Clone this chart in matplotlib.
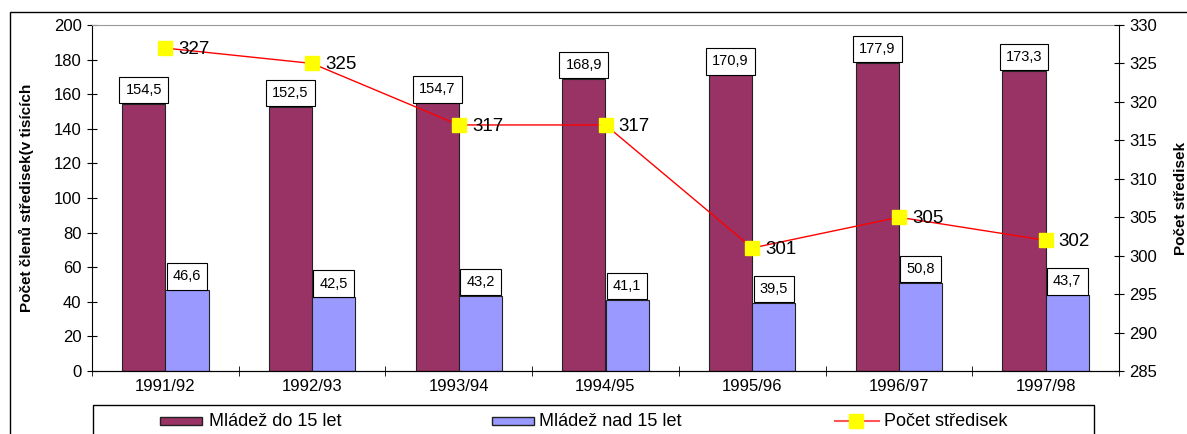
import matplotlib.pyplot as plt
import numpy as np
from matplotlib.patches import Rectangle
from matplotlib.lines import Line2D

plt.rcParams['font.family'] = ['Liberation Sans', 'DejaVu Sans']

# data
years = ['1991/92', '1992/93', '1993/94', '1994/95', '1995/96', '1996/97', '1997/98']
do15 = [154.5, 152.5, 154.7, 168.9, 170.9, 177.9, 173.3]
nad15 = [46.6, 42.5, 43.2, 41.1, 39.5, 50.8, 43.7]
strediska = [327, 325, 317, 317, 301, 305, 302]
legend_labels = ['Mládež do 15 let', 'Mládež nad 15 let', 'Počet středisek']

c_do = '#993366'
c_nad = '#9999FF'

W, H = 1187, 434
fig = plt.figure(figsize=(W / 100, H / 100), dpi=100)


def fx(px):
    return px / W


def fy(py):
    return 1 - py / H


# vnejsi ramecek (oriznuty vpravo a dole)
fig.patches.append(Rectangle((fx(10), -0.1), 1.2, fy(12) + 0.1, transform=fig.transFigure,
                             fill=False, edgecolor='black', linewidth=1))

ax = fig.add_axes([fx(92), fy(371), fx(1119 - 92), (371 - 25) / H])
x = np.arange(len(years))
bw = 0.295

b1 = ax.bar(x - bw / 2, do15, bw, color=c_do, edgecolor='#222222', linewidth=0.8)
b2 = ax.bar(x + bw / 2, nad15, bw, color=c_nad, edgecolor='#222222', linewidth=0.8)

for rect, v in zip(list(b1) + list(b2), do15 + nad15):
    ax.annotate(('%.1f' % v).replace('.', ','),
                (rect.get_x() + rect.get_width() / 2, rect.get_height()),
                xytext=(0, 5), textcoords='offset points', ha='center', va='bottom',
                fontsize=10.5,
                bbox=dict(boxstyle='square,pad=0.42', facecolor='white', edgecolor='black', linewidth=0.8))

ax.set_xlim(-0.5, len(years) - 0.5)
ax.set_ylim(0, 200)
ax.set_yticks(range(0, 201, 20))
ax.set_xticks(x)
ax.set_xticklabels(years, fontsize=12)
ax.set_xticks(np.arange(-0.5, len(years), 1), minor=True)
ax.tick_params(axis='x', which='major', length=0, pad=6)
ax.tick_params(axis='x', which='minor', direction='inout', length=7)
ax.tick_params(axis='y', direction='inout', length=7, labelsize=12, pad=4)
ax.set_ylabel('Počet členů středisek(v tisících', fontsize=11, fontweight='bold', labelpad=14)
ax.spines['top'].set_color('#999999')
ax.spines['right'].set_visible(False)

ax2 = ax.twinx()
ax2.plot(x, strediska, color='red', linewidth=1, marker='s', markersize=10.5,
         markerfacecolor='yellow', markeredgecolor='yellow')
for xi, v in zip(x, strediska):
    ax2.annotate(str(v), (xi, v), xytext=(9.5, -1), textcoords='offset points',
                 ha='left', va='center', fontsize=13.5)
ax2.set_ylim(285, 330)
ax2.set_yticks(range(285, 331, 5))
ax2.tick_params(axis='y', direction='inout', length=7, labelsize=12, pad=4)
ax2.set_ylabel('Počet středisek', fontsize=11, fontweight='bold', labelpad=12)
ax2.spines['top'].set_visible(False)
ax2.spines['left'].set_visible(False)

# legenda
fig.patches.append(Rectangle((fx(93), -0.1), fx(1094 - 93), fy(405) + 0.1,
                             transform=fig.transFigure, fill=False, edgecolor='black', linewidth=1))
ly = fy(421)
for x0, col in [(160, c_do), (492, c_nad)]:
    fig.patches.append(Rectangle((fx(x0), fy(424.5)), fx(42), 7.5 / H, transform=fig.transFigure,
                                 facecolor=col, edgecolor='#222222', linewidth=1))
fig.lines.append(Line2D([fx(835), fx(879)], [ly, ly], transform=fig.transFigure,
                        color='#ff5555', linewidth=1.5))
fig.lines.append(Line2D([fx(856)], [ly], transform=fig.transFigure, marker='s', markersize=10,
                        markerfacecolor='yellow', markeredgecolor='yellow'))
for tx, lab in zip([209, 539, 884], legend_labels):
    fig.text(fx(tx), ly, lab, ha='left', va='center', fontsize=13)

fig.savefig('out.png', dpi=100)
